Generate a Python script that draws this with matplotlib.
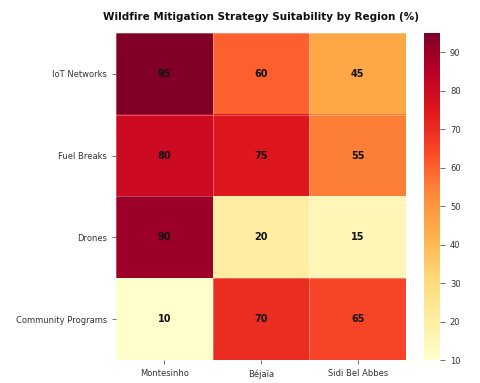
import matplotlib.pyplot as plt
import numpy as np

strategies = ["IoT Networks", "Fuel Breaks", "Drones", "Community Programs"]
regions = ["Montesinho", "Béjaïa", "Sidi Bel Abbes"]
iot_networks = [95, 60, 45]
fuel_breaks = [80, 75, 55]
drones = [90, 20, 15]
community_programs = [10, 70, 65]

values = np.array([iot_networks, fuel_breaks, drones, community_programs])

fig = plt.figure(figsize=(4.8, 3.83), dpi=100)
ax = fig.add_axes([0.242, 0.060, 0.604, 0.854])
cax = fig.add_axes([0.883, 0.060, 0.034, 0.854])

im = ax.imshow(values, cmap="YlOrRd", aspect="auto", vmin=10, vmax=95)
ax.set_xticks(range(len(regions)))
ax.set_xticklabels(regions, fontsize=6, color="#333333")
ax.set_yticks(range(len(strategies)))
ax.set_yticklabels(strategies, fontsize=6, color="#333333")
ax.tick_params(colors="#555555", labelcolor="#333333", width=0.6, length=3)
for spine in ax.spines.values():
    spine.set_visible(False)

# faint cell borders like the reference
ax.set_xticks(np.arange(-0.5, len(regions), 1), minor=True)
ax.set_yticks(np.arange(-0.5, len(strategies), 1), minor=True)
ax.grid(which="minor", color="white", linewidth=0.6, alpha=0.35)
ax.tick_params(which="minor", length=0)

for i in range(values.shape[0]):
    for j in range(values.shape[1]):
        ax.text(j, i, str(values[i, j]), ha="center", va="center",
                fontsize=7, fontweight="bold", color="#111111")

ax.set_title("Wildfire Mitigation Strategy Suitability by Region (%)",
             fontsize=7.5, fontweight="bold", pad=9, color="#111111")

cbar = fig.colorbar(im, cax=cax)
cbar.outline.set_visible(False)
cbar.ax.tick_params(labelsize=6, colors="#555555", labelcolor="#333333", width=0.6)

fig.savefig("out.png", dpi=100)
